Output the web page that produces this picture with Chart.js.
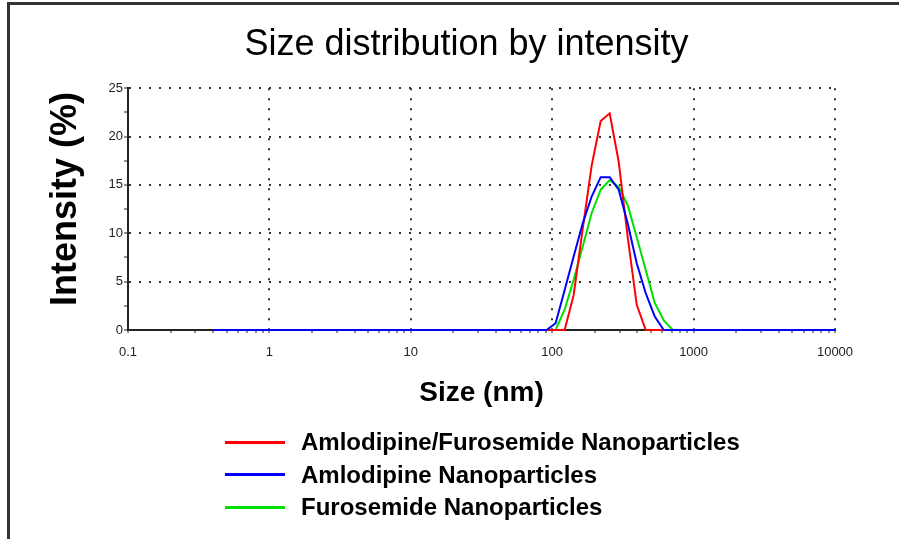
<!DOCTYPE html>
<html>
<head>
<meta charset="utf-8">
<script src="https://cdn.jsdelivr.net/npm/chart.js@4.4.1/dist/chart.umd.min.js"></script>
<style>
  html, body { margin: 0; padding: 0; background: #fff; }
  #wrap { position: relative; width: 899px; height: 539px; overflow: hidden; }
  #frame { position: absolute; left: 7px; top: 2px; width: 900px; height: 540px; border-left: 3px solid #333; border-top: 3px solid #333; pointer-events: none; }
  #legend { position: absolute; left: 225px; top: 426px; font: bold 24px "Liberation Sans", Arial, sans-serif; color: #000; }
  .row { display: flex; align-items: center; height: 32.5px; }
  .swatch { width: 60px; height: 3px; margin-right: 16px; }
</style>
</head>
<body>
<div id="wrap">
  <canvas id="dlsChart" width="899" height="539"></canvas>
  <div id="frame"></div>
  <div id="legend"></div>
</div>
<script>
// size bins (nm) and intensity (%)
const sizes = [0.4, 91.28, 105.7, 122.4, 141.8, 164.2, 190.1, 220.2, 255.0, 295.3, 342.0, 396.1, 458.7, 531.2, 615.1, 712.4, 825.0, 10000];
const mixValues = [0, 0, 0, 0, 3.6, 10.4, 17.0, 21.6, 22.4, 17.4, 9.6, 2.6, 0, 0, 0, 0, 0, 0];
const amloValues = [0, 0, 0.7, 4.1, 7.6, 11.0, 13.8, 15.8, 15.8, 14.5, 11.0, 6.9, 3.8, 1.4, 0, 0, 0, 0];
const furoValues = [0, 0, 0, 2.1, 5.2, 8.6, 12.1, 14.5, 15.5, 14.8, 12.9, 9.6, 6.2, 2.8, 1.0, 0, 0, 0];

const seriesNames = ['Amlodipine/Furosemide Nanoparticles', 'Amlodipine Nanoparticles', 'Furosemide Nanoparticles'];
const seriesColors = ['#ff0000', '#0000ff', '#00e000'];
const seriesValues = [mixValues, amloValues, furoValues];
const drawOrder = [1, 0, 2];

const xTickValues = [0.1, 1, 10, 100, 1000, 10000];
const yTickLabels = [0, 5, 10, 15, 20, 25];

const font = '"Liberation Sans", Arial, sans-serif';

const datasets = seriesNames.map((name, i) => ({
    label: name,
    data: sizes.map((s, j) => ({ x: s, y: seriesValues[i][j] })),
    borderColor: seriesColors[i],
    borderWidth: 2,
    pointRadius: 0,
    tension: 0,
    fill: false,
    clip: 3,
    order: drawOrder[i]
}));

// legend below the plot, one row per series
const legend = document.getElementById('legend');
seriesNames.forEach((name, i) => {
    const row = document.createElement('div');
    row.className = 'row';
    const sw = document.createElement('span');
    sw.className = 'swatch';
    sw.style.background = seriesColors[i];
    const txt = document.createElement('span');
    txt.textContent = name;
    row.appendChild(sw);
    row.appendChild(txt);
    legend.appendChild(row);
});

const ctx = document.getElementById('dlsChart').getContext('2d');
new Chart(ctx, {
    type: 'line',
    data: { datasets: datasets },
    options: {
        responsive: false,
        animation: false,
        layout: { padding: { left: 10, right: 64, top: 0, bottom: 129 } },
        plugins: {
            legend: { display: false },
            tooltip: { enabled: false },
            title: {
                display: true,
                fullSize: false,
                text: 'Size distribution by intensity   ',
                color: '#000',
                font: { family: font, size: 36, weight: 'normal' },
                padding: { top: 23, bottom: 22 }
            }
        },
        scales: {
            x: {
                type: 'logarithmic',
                min: 0.1,
                max: 10000,
                afterBuildTicks: scale => {
                    const ticks = [];
                    xTickValues.forEach((d, i) => {
                        ticks.push({ value: d });
                        if (i < xTickValues.length - 1) {
                            for (let m = 2; m < 10; m++) ticks.push({ value: d * m });
                        }
                    });
                    scale.ticks = ticks;
                },
                afterFit: scale => { scale.height = 80; },
                ticks: {
                    autoSkip: false,
                    maxRotation: 0,
                    padding: 12,
                    color: '#222',
                    font: { family: font, size: 13 },
                    callback: v => xTickValues.includes(v) ? String(v) : ''
                },
                grid: {
                    color: c => (c.tick && xTickValues.includes(c.tick.value) && c.tick.value > 0.1) ? '#333' : 'rgba(0,0,0,0)',
                    lineWidth: 2,
                    tickColor: '#222',
                    tickWidth: 1,
                    tickLength: 3
                },
                border: { color: '#222', width: 2, dash: [2, 8] },
                title: {
                    display: true,
                    text: 'Size (nm)',
                    color: '#000',
                    font: { family: font, size: 28, weight: 'bold' },
                    padding: { top: 0, bottom: 0 }
                }
            },
            y: {
                min: 0,
                max: 25,
                afterFit: scale => { scale.width = 118; },
                ticks: {
                    stepSize: 2.5,
                    autoSkip: false,
                    padding: 1,
                    color: '#222',
                    font: { family: font, size: 13 },
                    callback: v => yTickLabels.includes(v) ? String(v) : ''
                },
                grid: {
                    color: c => (c.tick && yTickLabels.includes(c.tick.value) && c.tick.value > 0) ? '#333' : 'rgba(0,0,0,0)',
                    lineWidth: 2,
                    tickColor: '#222',
                    tickWidth: 1,
                    tickLength: 4
                },
                border: { color: '#222', width: 2, dash: [2, 8] },
                title: {
                    display: true,
                    text: '  Intensity (%)',
                    color: '#000',
                    font: { family: font, size: 36, weight: 'bold' },
                    padding: { top: 34, bottom: 0 }
                }
            }
        }
    }
});
</script>
</body>
</html>
